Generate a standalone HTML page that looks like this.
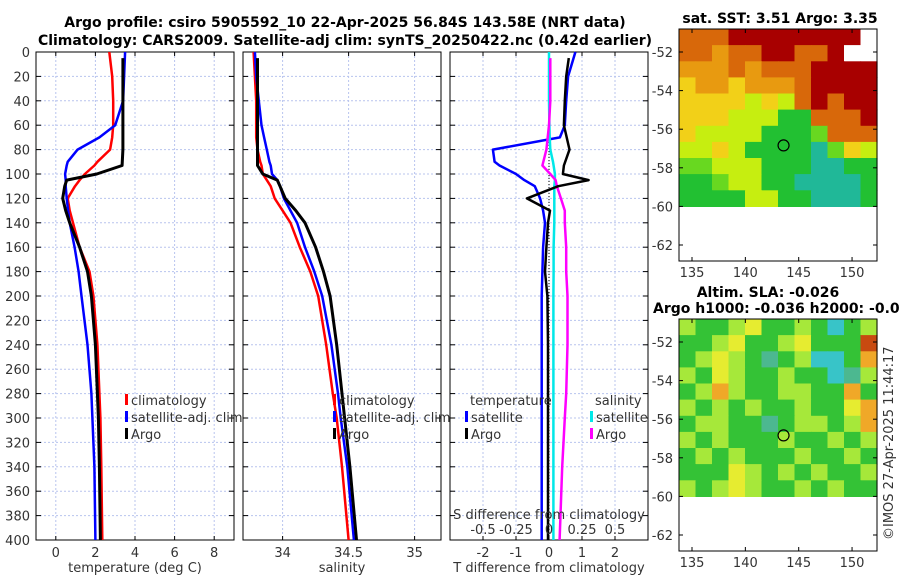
<!DOCTYPE html>
<html><head><meta charset="utf-8"><style>
body{margin:0;background:#fff;}
svg{display:block;font-family:"DejaVu Sans","Liberation Sans",sans-serif;}
.tk{font-size:13px;fill:#333;}
.ttl{font-size:14px;font-weight:bold;fill:#000;}
</style></head><body>
<svg id="c" width="900" height="580" viewBox="0 0 900 580" xmlns="http://www.w3.org/2000/svg">
<text class="ttl" x="345" y="27" text-anchor="middle">Argo profile: csiro 5905592_10 22-Apr-2025 56.84S 143.58E (NRT data)</text>
<text class="ttl" x="345" y="45" text-anchor="middle">Climatology: CARS2009. Satellite-adj clim: synTS_20250422.nc (0.42d earlier)</text>
<text class="ttl" x="780" y="23" text-anchor="middle">sat. SST: 3.51 Argo: 3.35</text>
<text class="ttl" x="768" y="297" text-anchor="middle">Altim. SLA: -0.026</text>
<text class="ttl" x="653" y="313">Argo h1000: -0.036 h2000: -0.058</text>
<text class="tk" transform="translate(893,540) rotate(-90)">©IMOS 27-Apr-2025 11:44:17</text>
<g id="plots"></g>
</svg>
<script>
// ---- data ----
const depths = [0,20,40,60,70,80,90,93,100,105,110,120,130,140,160,180,200,240,280,300,340,400];
const tempClim = [2.7,2.85,2.9,2.9,2.85,2.74,2.1,1.95,1.47,1.2,0.97,0.6,0.7,0.87,1.2,1.7,1.9,2.1,2.2,2.25,2.3,2.35];
const tempSat  = [3.5,3.45,3.4,3.0,2.2,1.1,0.6,0.55,0.47,0.5,0.5,0.55,0.62,0.7,0.95,1.15,1.3,1.6,1.8,1.85,1.95,2.0];
const argoDepths = [5,20,40,60,80,93,100,105,110,120,130,140,160,180,200,240,280,300,340,400];
const tempArgo = [3.39,3.39,3.39,3.39,3.39,3.35,2.07,0.55,0.45,0.35,0.5,0.7,1.2,1.6,1.8,2.0,2.1,2.15,2.2,2.25];
const salClim = [33.78,33.79,33.8,33.8,33.8,33.81,33.83,33.84,33.85,33.88,33.91,33.94,34.0,34.06,34.13,34.21,34.27,34.33,34.38,34.41,34.45,34.5];
const salSat  = [33.79,33.8,33.82,33.84,33.86,33.88,33.9,33.91,33.92,33.96,33.98,34.01,34.06,34.11,34.17,34.24,34.3,34.37,34.42,34.44,34.49,34.54];
const salArgo = [33.81,33.81,33.81,33.81,33.81,33.81,33.85,33.96,33.98,34.02,34.1,34.17,34.25,34.31,34.36,34.41,34.45,34.47,34.51,34.56];
const tdiffSat  = [0.8,0.58,0.52,0.48,0.33,-1.7,-1.65,-1.5,-1.0,-0.75,-0.43,-0.27,-0.18,-0.12,-0.18,-0.2,-0.22,-0.22,-0.22,-0.22,-0.22,-0.22];
const tdiffArgo = [0.6,0.52,0.48,0.45,0.62,0.45,0.42,1.2,0.28,-0.67,0.03,-0.03,-0.08,-0.12,-0.05,-0.03,-0.03,-0.03,-0.03,-0.03];
const sdiffSat  = [0.0,0.0,0.0,0.003,0.005,0.01,0.03,0.035,0.045,0.045,0.04,0.04,0.04,0.04,0.035,0.035,0.033,0.033,0.033,0.033,0.033,0.033];
const sdiffArgo = [0.01,0.01,0.01,0.0,-0.02,-0.05,0.01,0.05,0.06,0.09,0.12,0.12,0.13,0.13,0.14,0.14,0.13,0.12,0.1,0.08];
const depthTicks = [0,20,40,60,80,100,120,140,160,180,200,220,240,260,280,300,320,340,360,380,400];
const tempTicks = [0,2,4,6,8];
const salTicks = [34,34.5,35];
const salTickLabels = ['34','34.5','35'];
const tdTicks = [-2,-1,0,1,2];
const sdTicks = [-0.5,-0.25,0,0.25,0.5];
const sdTickLabels = ['-0.5','-0.25','0','0.25','0.5'];
const latTicks = [-52,-54,-56,-58,-60,-62];
const lonTicks = [135,140,145,150];
const sstMap = ["OOORRRRRRRRW","OOoOORROORWW","oooOoOOORRRR","YooYoooORRRR","YYYYyYyORORR","YYYyyyGGOOOR","YyyyyGGGgOOO","yyYyGGGGCgYy","ggyyyGGGCCGG","GGgyyGGCCCCG","GGGGyyGGCCCG"];
const slaMap = ["yGGyYGGyGCGy","GGyYGGyYGGGR","GyYyGcGyCCGO","yGYyGGyGGCcy","GyOyGGyyGGOG","yGyGyGGyGGYO","GyyGGcGyyGyO","yGyGGGyGGyGy","GyGyGGGyGGyG","GGGYyGyGyGGy","yGyYyGGyGyGG"];
const sstColors = {R:'#a80000',O:'#d8680a',o:'#e89a10',Y:'#f2d018',y:'#c6ee10',G:'#22c032',g:'#68d820',C:'#20b898',W:'#ffffff'};
const slaColors = {G:'#34c236',y:'#a6e83a',Y:'#e6ec30',O:'#f0a828',R:'#c84a10',C:'#38c4c8',c:'#4cb890'};
// ---- drawing ----
const NS='http://www.w3.org/2000/svg';
const root=document.getElementById('plots');
function mk(tag,attrs,parent){const e=document.createElementNS(NS,tag);for(const k in attrs)e.setAttribute(k,attrs[k]);(parent||root).appendChild(e);return e;}
const Y0=52,Y1=540;
const yD=d=>Y0+(d/400)*(Y1-Y0);
function panel(name,x0,x1,xmin,xmax,ticks,labels,title){
  const g=mk('g',{});
  
  
  const sx=v=>x0+(v-xmin)/(xmax-xmin)*(x1-x0);
  ticks.forEach((t,i)=>{
    const l=mk('line',{x1:sx(t),x2:sx(t),y1:Y0,y2:Y1,stroke:'#b8c4ee','stroke-width':1,'stroke-dasharray':'2,2'},g);
    
    
    mk('line',{x1:sx(t),x2:sx(t),y1:Y1,y2:Y1-4,stroke:'#000'},g);
    mk('line',{x1:sx(t),x2:sx(t),y1:Y0,y2:Y0+4,stroke:'#000'},g);
    const tx=mk('text',{x:sx(t),y:557,'text-anchor':'middle',class:'tk'},g);
    tx.textContent=labels[i];
    
    
  });
  depthTicks.forEach(d=>{
    if(d>0&&d<400){const l=mk('line',{x1:x0,x2:x1,y1:yD(d),y2:yD(d),stroke:'#b8c4ee','stroke-width':1,'stroke-dasharray':'2,2'},g);
    
    }
    mk('line',{x1:x0,x2:x0+5,y1:yD(d),y2:yD(d),stroke:'#000'},g);
    mk('line',{x1:x1,x2:x1-5,y1:yD(d),y2:yD(d),stroke:'#000'},g);
  });
  const fr=mk('rect',{x:x0,y:Y0,width:x1-x0,height:Y1-Y0,fill:'none',stroke:'#000','stroke-width':1},g);
  
  
  const tt=mk('text',{x:(x0+x1)/2,y:572,'text-anchor':'middle',class:'tk'},g);
  tt.textContent=title;
  
  
  return {g,sx};
}
function line(p,xs,ds,color,w,name){
  const pts=xs.map((v,i)=>p.sx(v).toFixed(1)+','+yD(ds[i]).toFixed(1)).join(' ');
  const pl=mk('polyline',{points:pts,fill:'none',stroke:color,'stroke-width':w,'stroke-linejoin':'round'},p.g);
  
  
}
function legend(g,x,y,color,label){
  mk('rect',{x:x-5,y:y-6,width:3,height:11,fill:color},g);
  const t=mk('text',{x:x+1,y:y+5,class:'tk'},g);
  t.textContent=label;
  
  
}
depthTicks.forEach(d=>{
  const t=mk('text',{x:30,y:yD(d)+5,'text-anchor':'end',class:'tk'});
  t.textContent=d;
  
  
});
const p1=panel('temperature-panel',36,234,-1,9,tempTicks,tempTicks.map(String),'temperature (deg C)');
line(p1,tempClim,depths,'#ff0000',2.5,'temp-climatology-line');
line(p1,tempSat,depths,'#0000ff',2.5,'temp-satellite-line');
line(p1,tempArgo,argoDepths,'#000',3,'temp-argo-line');
legend(p1.g,130,400,'#f00','climatology');legend(p1.g,130,417,'#00f','satellite-adj. clim');legend(p1.g,130,434,'#000','Argo');
const p2=panel('salinity-panel',243,441,33.7,35.2,salTicks,salTickLabels,'salinity');
line(p2,salClim,depths,'#ff0000',2.5,'sal-climatology-line');
line(p2,salSat,depths,'#0000ff',2.5,'sal-satellite-line');
line(p2,salArgo,argoDepths,'#000',3,'sal-argo-line');
legend(p2.g,338,400,'#f00','climatology');legend(p2.g,338,417,'#00f','satellite-adj. clim');legend(p2.g,338,434,'#000','Argo');
const p3=panel('difference-panel',450,648,-3,3,tdTicks,tdTicks.map(String),'T difference from climatology');
mk('line',{x1:p3.sx(0),x2:p3.sx(0),y1:Y0,y2:Y1,stroke:'#000','stroke-dasharray':'1,2'},p3.g);
line(p3,tdiffSat,depths,'#0000ff',2.5,'tdiff-satellite-line');
line(p3,sdiffSat.map(v=>v*4),depths,'#00e8e8',2.5,'sdiff-satellite-line');
line(p3,sdiffArgo.map(v=>v*4),argoDepths,'#ff00ff',2.5,'sdiff-argo-line');
line(p3,tdiffArgo,argoDepths,'#000',2.5,'tdiff-argo-line');
{const t=mk('text',{x:470,y:405,class:'tk'},p3.g);t.textContent='temperature';


const s=mk('text',{x:595,y:405,class:'tk'},p3.g);s.textContent='salinity';

}
legend(p3.g,470,417,'#00f','satellite');legend(p3.g,470,434,'#000','Argo');
legend(p3.g,595,417,'#00e8e8','satellite');legend(p3.g,595,434,'#f0f','Argo');
{const t=mk('text',{x:549,y:519,'text-anchor':'middle',class:'tk'},p3.g);t.textContent='S difference from climatology';

}
sdTicks.forEach((v,i)=>{const t=mk('text',{x:p3.sx(v*4),y:534,'text-anchor':'middle',class:'tk'},p3.g);t.textContent=sdTickLabels[i];

});
function map(name,top,grid,colors){
  const L=679,R=877,T=top,B=top+232;
  const latY=lat=>top+23+(-52-lat)*19.3;
  const lonX=lon=>692+(lon-135)*10.67;
  const g=mk('g',{});
  
  
  const dB=latY(-60), rows=grid.length, cols=grid[0].length;
  const ch=(dB-T)/rows, cw=(R-L)/cols;
  grid.forEach((row,r)=>{[...row].forEach((c,k)=>{
    mk('rect',{x:(L+k*cw).toFixed(1),y:(T+r*ch).toFixed(1),width:(cw+0.6).toFixed(1),height:(ch+0.6).toFixed(1),fill:colors[c]},g);
  });});
  const fr=mk('rect',{x:L,y:T,width:R-L,height:B-T,fill:'none',stroke:'#000'},g);
  
  
  latTicks.forEach(l=>{const y=latY(l);
    mk('line',{x1:L,x2:L+4,y1:y,y2:y,stroke:'#000'},g);mk('line',{x1:R,x2:R-4,y1:y,y2:y,stroke:'#000'},g);
    const t=mk('text',{x:673,y:y+5,'text-anchor':'end',class:'tk'},g);t.textContent=l;
    
    });
  lonTicks.forEach(l=>{const x=lonX(l);
    mk('line',{x1:x,x2:x,y1:B,y2:B-4,stroke:'#000'},g);mk('line',{x1:x,x2:x,y1:T,y2:T+4,stroke:'#000'},g);
    const t=mk('text',{x:x,y:B+16,'text-anchor':'middle',class:'tk'},g);t.textContent=l;
    
    });
  const c=mk('circle',{cx:lonX(143.58),cy:latY(-56.84),r:5.5,fill:'none',stroke:'#000','stroke-width':1.2},g);
  
  
}
map('sst-map',29,sstMap,sstColors);
map('sla-map',319,slaMap,slaColors);
</script>
</body></html>
